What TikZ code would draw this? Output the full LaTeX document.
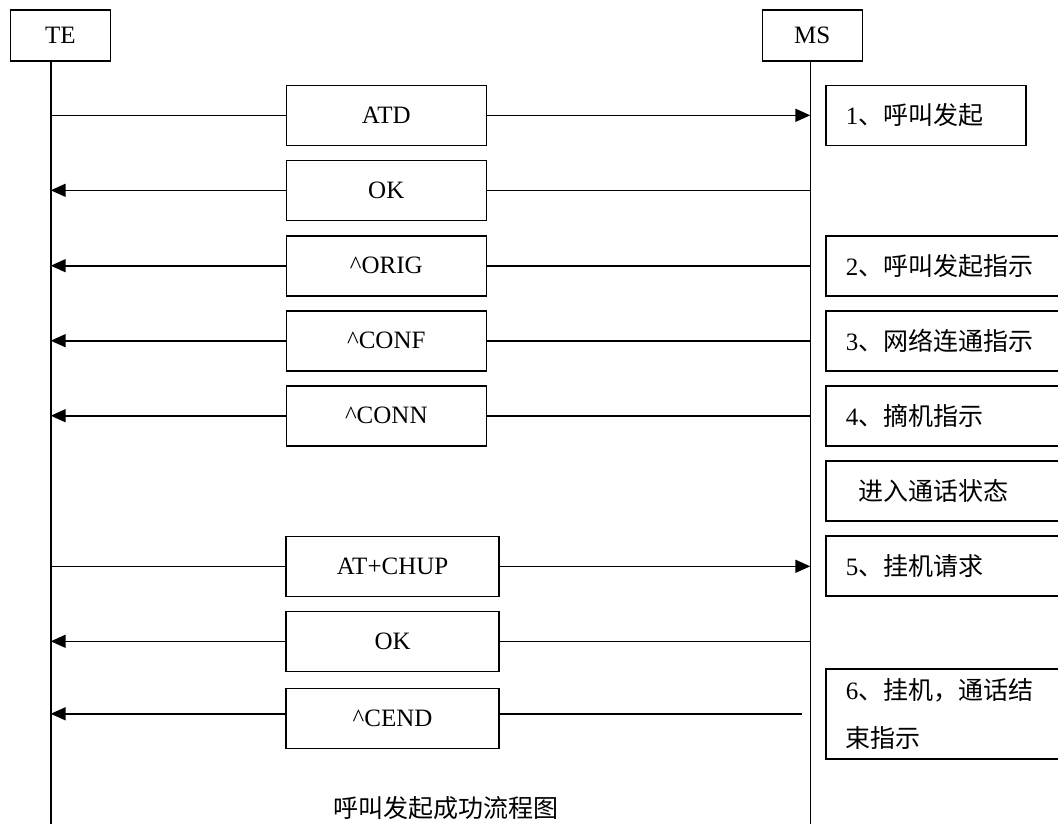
\documentclass[tikz,border=0pt]{standalone}
\usepackage{fontspec}
\setmainfont{Liberation Serif}
\newfontfamily\zhfont{Noto Sans CJK SC}
\newcommand{\zh}[1]{{\zhfont #1}}
\usetikzlibrary{arrows.meta}

\begin{document}
\begin{tikzpicture}[x=1pt,y=-1pt,line width=1.6pt,
  every node/.style={font=\fontsize{25}{48}\selectfont},
  entity/.style={draw,minimum width=100pt,minimum height=51pt,inner sep=0pt},
  msgbox/.style={draw,minimum width=200pt,minimum height=60pt,inner sep=0pt},
  notebox/.style={draw,anchor=west,minimum height=60pt,text width=200pt,inner xsep=20pt,align=left},
  msg/.style={-{Triangle[length=15pt,width=13pt]}}]
  \useasboundingbox (0,0) rectangle (1058,823);
  \clip (0,0) rectangle (1058,823);

  %entities
  \node[entity] (te) at (60.3,35.5) {TE};
  \node[entity] (ms) at (812.3,35.5) {MS};
  \coordinate (tebot) at (50.7,830);
  \coordinate (msbot) at (810.3,830);
  \draw (te.south -| tebot) -- (tebot);
  \draw (ms.south -| msbot) -- (msbot);

  %call set up
  \node[msgbox] (atd) at (386.3,115.3) {ATD};
  \draw (tebot |- atd) -- (atd.west);
  \draw[msg] (atd.east) -- (msbot |- atd);
  \node[msgbox] (ok1) at (386.3,190.3) {OK};
  \draw (msbot |- ok1) -- (ok1.east);
  \draw[msg] (ok1.west) -- (tebot |- ok1);
  \node[msgbox] (orig) at (386.3,265.7) {\^{}ORIG};
  \draw (msbot |- orig) -- (orig.east);
  \draw[msg] (orig.west) -- (tebot |- orig);
  \node[msgbox] (conf) at (386.3,340.7) {\^{}CONF};
  \draw (msbot |- conf) -- (conf.east);
  \draw[msg] (conf.west) -- (tebot |- conf);
  \node[msgbox] (conn) at (386.3,415.7) {\^{}CONN};
  \draw (msbot |- conn) -- (conn.east);
  \draw[msg] (conn.west) -- (tebot |- conn);

  %hang up
  \node[msgbox,minimum width=213pt] (chup) at (392.6,566.3) {AT+CHUP};
  \draw (tebot |- chup) -- (chup.west);
  \draw[msg] (chup.east) -- (msbot |- chup);
  \node[msgbox,minimum width=213pt] (ok2) at (392.6,641.3) {OK};
  \draw (msbot |- ok2) -- (ok2.east);
  \draw[msg] (ok2.west) -- (tebot |- ok2);
  \node[msgbox,minimum width=213pt] (cend) at (392.6,718.3) {\^{}CEND};
  \coordinate (cendr) at (801.7,713.8);
  \draw (cendr) -- (cend.east |- cendr);
  \draw[msg] (cend.west |- cendr) -- (tebot |- cendr);

  %notes
  \node[notebox,text width=160pt] (n1) at (825,115.3) {1\zh{、呼叫发起}};
  \node[notebox] (n2) at (825,265.7) {2\zh{、呼叫发起指示}};
  \node[notebox] (n3) at (825,340.7) {3\zh{、网络连通指示}};
  \node[notebox] (n4) at (825,415.7) {4\zh{、摘机指示}};
  \node[notebox] (n0) at (825,491.2) {\hspace*{13pt}\zh{进入通话状态}};
  \node[notebox] (n5) at (825,566.2) {5\zh{、挂机请求}};
  \node[notebox,minimum height=90pt] (n6) at (825,713.8) {6\zh{、挂机，通话结}\\\zh{束指示}};

  %caption
  \node[anchor=base] (cap) at (445.5,817) {\zh{呼叫发起成功流程图}};
\end{tikzpicture}
\end{document}
